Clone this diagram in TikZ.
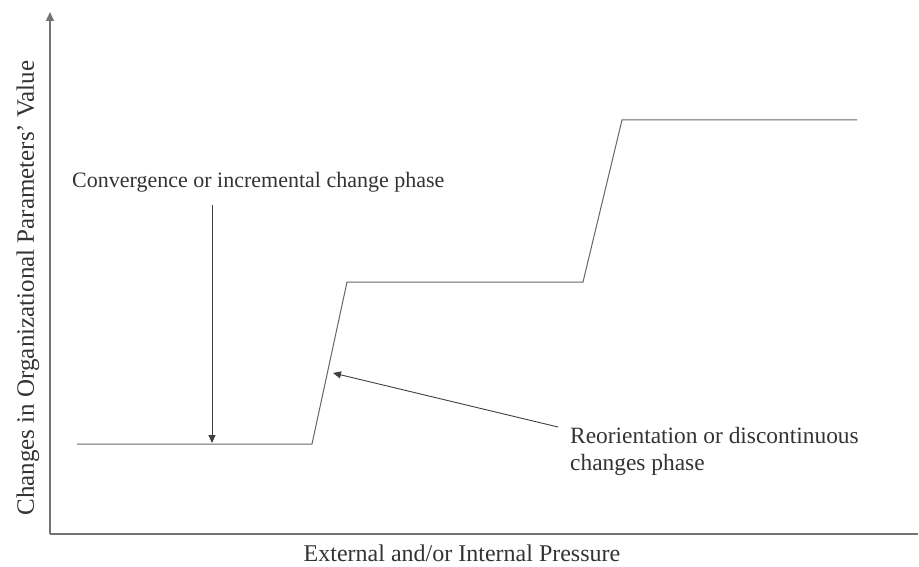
\documentclass[tikz,border=0pt]{standalone}
\usepackage{fontspec}
\setmainfont{Liberation Serif}
\usetikzlibrary{arrows.meta}
\begin{document}
\begin{tikzpicture}[x=1pt,y=-1pt,
  axis/.style={draw=black!55,line width=1.4pt},
  curve/.style={draw=black!60,line width=1pt},
  pointer/.style={draw=black!75,line width=0.9pt,-{Triangle[length=8pt,width=7pt]}},
  lbl/.style={text=black!80,inner sep=0pt}]
\useasboundingbox (0,0) rectangle (919,567);
% axes
\coordinate (o) at (50,534);
\coordinate (ytop) at (50,12);
\coordinate (xend) at (918,534);
\draw[axis,-{Triangle[length=9pt,width=8pt]}] (o) -- (ytop);
\draw[axis] (o) -- (xend);
% stepped change curve
\coordinate (p1) at (77,444);
\coordinate (p2) at (312,444);
\coordinate (p3) at (347,282);
\coordinate (p4) at (583,282);
\coordinate (p5) at (622,120);
\coordinate (p6) at (857,120);
\draw[curve] (p1) -- (p2) -- (p3) -- (p4) -- (p5) -- (p6);
% axis titles
\node[lbl,rotate=90,font=\fontsize{25}{30}\selectfont] (ylab) at (28,288) {Changes in Organizational Parameters’ Value};
\node[lbl,font=\fontsize{24}{28}\selectfont] (xlab) at (462,553) {External and/or Internal Pressure};
% phase labels
\node[lbl,anchor=base west,font=\fontsize{22}{28}\selectfont] (conv) at (72,188) {Convergence or incremental change phase};
\node[lbl,anchor=base west,align=left,font=\fontsize{23.4}{27}\selectfont] (reor) at (570,470) {Reorientation or discontinuous\\changes phase};
\coordinate (c1) at (212,205);
\coordinate (c2) at (212,443);
\draw[pointer] (c1) -- (c2);
\coordinate (r1) at (558,427);
\coordinate (r2) at (333,373);
\draw[pointer] (r1) -- (r2);
\end{tikzpicture}
\end{document}
